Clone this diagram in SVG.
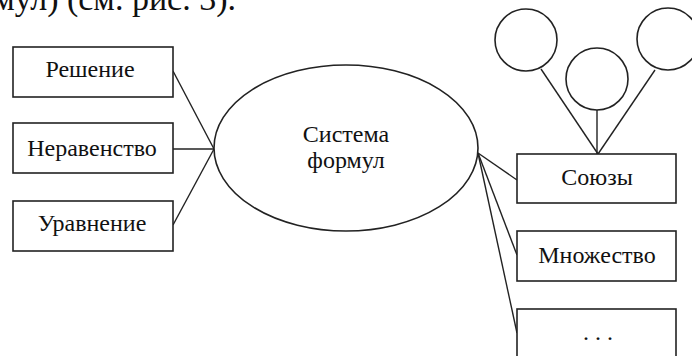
<svg xmlns="http://www.w3.org/2000/svg" width="692" height="356" viewBox="0 0 692 356">
<style>
.box{fill:#fff;stroke:#222;stroke-width:1.6}
.ln{stroke:#222;stroke-width:1.4;fill:none}
.t{font-family:"Liberation Serif","Times New Roman",serif;font-size:24px;fill:#111;text-anchor:middle}
.top{font-family:"Liberation Serif","Times New Roman",serif;font-size:34px;fill:#111;text-anchor:end}
</style>
<rect width="692" height="356" fill="#fff"/>
<text class="top" x="236" y="10">формул) (см. рис. 3).</text>
<g id="connectors">
<line class="ln" x1="173" y1="71" x2="214" y2="149"/>
<line class="ln" x1="173" y1="149" x2="214" y2="149"/>
<line class="ln" x1="173" y1="225" x2="214" y2="149"/>
<line class="ln" x1="478" y1="153" x2="517" y2="180"/>
<line class="ln" x1="478" y1="153" x2="517" y2="255"/>
<line class="ln" x1="478" y1="153" x2="517" y2="333"/>
<line class="ln" x1="541" y1="69" x2="598" y2="154"/>
<line class="ln" x1="597" y1="110" x2="597" y2="154"/>
<line class="ln" x1="655" y1="70" x2="598" y2="154"/>
</g>
<g id="reshenie"><rect class="box" x="13" y="47" width="160" height="50"/><text class="t" x="90" y="77">Решение</text></g>
<g id="neravenstvo"><rect class="box" x="13" y="123" width="160" height="50"/><text class="t" x="92" y="156">Неравенство</text></g>
<g id="uravnenie"><rect class="box" x="13" y="201" width="160" height="50"/><text class="t" x="92" y="231">Уравнение</text></g>
<g id="sistema"><ellipse class="box" cx="346" cy="148" rx="132" ry="83"/><text class="t" x="346" y="142">Система</text><text class="t" x="346" y="168">формул</text></g>
<g id="soyuzy"><rect class="box" x="517" y="154" width="159" height="49"/><text class="t" x="597" y="185">Союзы</text></g>
<g id="mnozhestvo"><rect class="box" x="517" y="231" width="159" height="50"/><text class="t" x="597" y="263">Множество</text></g>
<g id="etc"><rect class="box" x="517" y="309" width="159" height="60"/><text class="t" x="598" y="340">. . .</text></g>
<g id="c1"><circle class="box" cx="526" cy="40" r="31"/></g>
<g id="c2"><circle class="box" cx="597" cy="79" r="31"/></g>
<g id="c3"><circle class="box" cx="668" cy="39" r="31"/></g>
</svg>
